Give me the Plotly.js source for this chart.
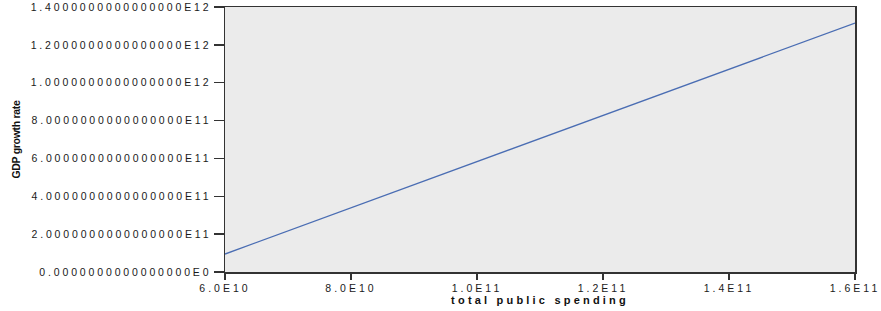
<!DOCTYPE html>
<html>
<head>
<meta charset="utf-8">
<script src="https://cdn.plot.ly/plotly-3.0.1.min.js"></script>
<style>
  html, body { margin: 0; padding: 0; background: #ffffff; }
  #chart { width: 881px; height: 311px; }
  .ytick text { letter-spacing: 2.85px; }
  .xtick text { letter-spacing: 3.0px; }
  .g-xtitle text { letter-spacing: 3.2px; }
  .g-ytitle text { letter-spacing: -0.3px; }
</style>
</head>
<body>
<div id="chart"></div>
<script>
// Data
const spending = [6.0e10, 1.6e11];          // total public spending (x)
const gdpGrowth = [9.5e10, 1.315e12];       // GDP growth rate (y) – fitted line

const xTickVals = [6.0e10, 8.0e10, 1.0e11, 1.2e11, 1.4e11, 1.6e11];
const xTickText = ["6.0E10", "8.0E10", "1.0E11", "1.2E11", "1.4E11", "1.6E11"];

const yTickVals = [0, 2e11, 4e11, 6e11, 8e11, 1.0e12, 1.2e12, 1.4e12];
const yTickText = [
  "0.0000000000000000E0",
  "2.0000000000000000E11",
  "4.0000000000000000E11",
  "6.0000000000000000E11",
  "8.0000000000000000E11",
  "1.0000000000000000E12",
  "1.2000000000000000E12",
  "1.4000000000000000E12"
];

const tickFont = { family: "Liberation Sans, Arial, sans-serif", size: 10.5, color: "#1a1a1a" };

const trace = {
  x: spending,
  y: gdpGrowth,
  type: "scatter",
  mode: "lines",
  line: { color: "#4a6db3", width: 1.3 },
  hoverinfo: "skip",
  showlegend: false
};

const layout = {
  width: 881,
  height: 311,
  margin: { l: 225, r: 26, t: 7, b: 39, pad: 0 },
  paper_bgcolor: "#ffffff",
  plot_bgcolor: "#ebebeb",
  showlegend: false,
  xaxis: {
    range: [6.0e10, 1.6e11],
    tickmode: "array",
    tickvals: xTickVals,
    ticktext: xTickText,
    ticks: "outside",
    ticklen: 6,
    tickwidth: 1.3,
    tickcolor: "#333333",
    tickfont: tickFont,
    showgrid: false,
    zeroline: false,
    showline: true,
    linecolor: "#333333",
    linewidth: 1.5,
    mirror: true,
    automargin: false,
    title: {
      text: "total public spending",
      font: { family: "Liberation Sans, Arial, sans-serif", size: 11, color: "#111111", weight: "bold" },
      standoff: 2
    }
  },
  yaxis: {
    range: [0, 1.4e12],
    tickmode: "array",
    tickvals: yTickVals,
    ticktext: yTickText,
    ticks: "outside",
    ticklen: 10,
    tickwidth: 1.3,
    tickcolor: "#333333",
    tickfont: tickFont,
    showgrid: false,
    zeroline: false,
    showline: true,
    linecolor: "#333333",
    linewidth: 1.5,
    mirror: true,
    automargin: false,
    title: {
      text: "GDP growth rate",
      font: { family: "Liberation Sans Narrow, Arial Narrow, Liberation Sans, sans-serif", size: 10.5, color: "#111111", weight: "bold" },
      standoff: 8
    }
  }
};

Plotly.newPlot("chart", [trace], layout, { displayModeBar: false, staticPlot: true });
</script>
</body>
</html>
